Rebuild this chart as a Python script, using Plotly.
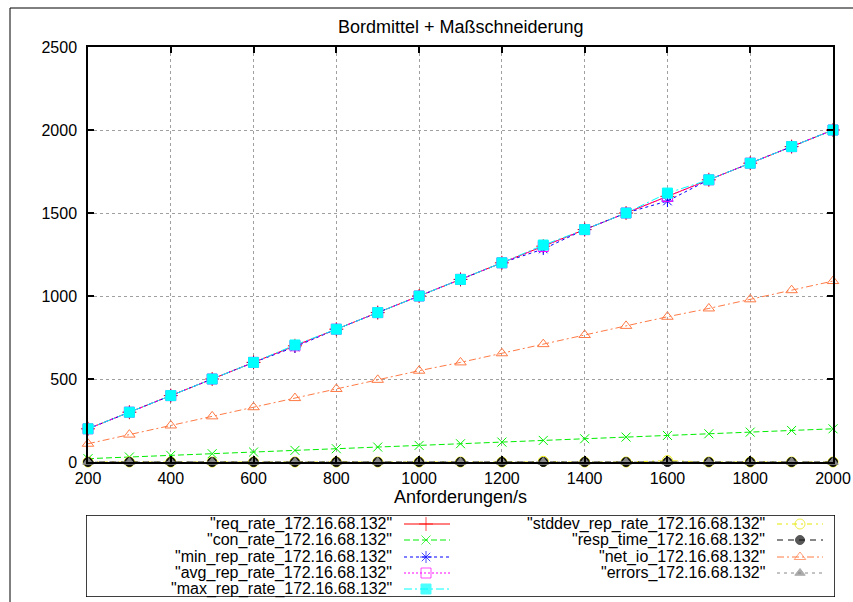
import plotly.graph_objects as go

# ---------------- data ----------------
x_vals = [200, 300, 400, 500, 600, 700, 800, 900, 1000, 1100, 1200, 1300, 1400, 1500, 1600, 1700, 1800, 1900, 2000]
req_rate = [200, 300, 400, 500, 600, 700, 800, 900, 1000, 1100, 1200, 1300, 1400, 1500, 1600, 1700, 1800, 1900, 2000]
con_rate = [20, 30, 40, 50, 60, 70, 80, 90, 100, 110, 120, 130, 140, 150, 160, 170, 180, 190, 200]
min_rep_rate = [200, 300, 400, 500, 600, 693, 800, 900, 1000, 1100, 1200, 1283, 1400, 1500, 1572, 1700, 1800, 1900, 2000]
avg_rep_rate = [200, 300, 400, 500, 600, 700, 800, 900, 1000, 1100, 1200, 1298, 1400, 1500, 1600, 1700, 1800, 1900, 2000]
max_rep_rate = [200, 300, 400, 500, 600, 705, 800, 900, 1000, 1100, 1200, 1307, 1400, 1500, 1620, 1700, 1800, 1900, 2000]
stddev_rep_rate = [0, 0, 0, 0, 0, 0, 0, 0, 0, 0, 0, 4, 0, 0, 8, 0, 0, 0, 0]
resp_time = [0, 0, 0, 0, 0, 0, 0, 0, 0, 0, 0, 0, 0, 0, 0, 0, 0, 0, 0]
net_io = [110, 165, 220, 275, 330, 385, 440, 495, 550, 600, 655, 710, 765, 820, 875, 925, 980, 1035, 1090]
errors = [0, 0, 0, 0, 0, 0, 0, 0, 0, 0, 0, 0, 0, 0, 0, 0, 0, 0, 0]

x_ticks = [200, 400, 600, 800, 1000, 1200, 1400, 1600, 1800, 2000]
y_ticks = [0, 500, 1000, 1500, 2000, 2500]

title_text = "Bordmittel + Maßschneiderung"
x_title = "Anforderungen/s"

series = [
    ("\"req_rate_172.16.68.132\"", req_rate, "#ff0000", "solid", "cross-thin-open", 10),
    ("\"con_rate_172.16.68.132\"", con_rate, "#00ee00", "6px,3px", "x-thin-open", 9),
    ("\"min_rep_rate_172.16.68.132\"", min_rep_rate, "#0000ff", "3px,3px", "asterisk-open", 10),
    ("\"avg_rep_rate_172.16.68.132\"", avg_rep_rate, "#ff00ff", "2px,2px", "square-open", 10),
    ("\"max_rep_rate_172.16.68.132\"", max_rep_rate, "#00ffff", "8px,3px,2px,3px", "square", 10),
    ("\"stddev_rep_rate_172.16.68.132\"", stddev_rep_rate, "#e6e600", "5px,4px,2px,4px", "circle-open", 10),
    ("\"resp_time_172.16.68.132\"", resp_time, "#111111", "6px,5px", "circle", 9),
    ("\"net_io_172.16.68.132\"", net_io, "#ff7a45", "7px,3px,2px,3px", "triangle-up-open", 10),
    ("\"errors_172.16.68.132\"", errors, "#888888", "3px,4px", "triangle-up", 9),
]

FONT = "Liberation Sans, Arial, sans-serif"

fig = go.Figure()

for name, vals, color, dash, sym, size in series:
    fig.add_trace(go.Scatter(
        x=x_vals, y=vals, mode="lines+markers", name=name,
        line=dict(color=color, width=1, dash=dash),
        marker=dict(symbol=sym, size=size, color=color,
                    line=dict(color=color, width=1)),
        cliponaxis=False, showlegend=False,
        xaxis="x", yaxis="y",
    ))

# ---------- legend built on an auxiliary axis pair (pixel-like units) ----------
rows_left = [524, 540, 557, 573, 589]
rows_right = [524, 540, 557, 573]
annotations = []
for i, (name, vals, color, dash, sym, size) in enumerate(series):
    if i < 5:
        ty, tx, lx0, lx1, mx = rows_left[i], 394, 404, 450, 426
    else:
        ty, tx, lx0, lx1, mx = rows_right[i - 5], 767, 777, 823, 800
    fig.add_trace(go.Scatter(
        x=[lx0, mx, lx1], y=[ty, ty, ty], mode="lines+markers",
        line=dict(color=color, width=1, dash=dash),
        marker=dict(symbol=sym, size=[0, size, 0], color=color,
                    line=dict(color=color, width=1)),
        xaxis="x2", yaxis="y2", showlegend=False, hoverinfo="skip",
        cliponaxis=False,
    ))
    annotations.append(dict(
        x=tx, y=ty, xref="x2", yref="y2", text=name, showarrow=False,
        xanchor="right", yanchor="middle",
        font=dict(family=FONT, size=16, color="#000000"),
    ))

# paper spans pixels x: 10..853, y: 8..602
W, H = 853, 602
L, T = 10, 8
PW, PH = W - L, H - T

def px(xp):
    return (xp - L) / PW

def py(yp):
    return (H - yp) / PH

annotations.append(dict(
    x=px(460.5), y=py(27), xref="paper", yref="paper", text=title_text,
    showarrow=False, xanchor="center", yanchor="middle",
    font=dict(family=FONT, size=18, color="#000000"),
))
annotations.append(dict(
    x=px(460.5), y=py(497), xref="paper", yref="paper", text=x_title,
    showarrow=False, xanchor="center", yanchor="middle",
    font=dict(family=FONT, size=18, color="#000000"),
))

shapes = [
    # outer frame (top and left visible, extends past the image)
    dict(type="rect", xref="paper", yref="paper", x0=0, y0=1, x1=1.05, y1=-0.05,
         line=dict(color="#000000", width=1), layer="below"),
    # legend box
    dict(type="rect", xref="x2", yref="y2", x0=86, y0=515, x1=835, y1=597,
         line=dict(color="#000000", width=1.5)),
]

fig.update_layout(
    template="none",
    autosize=False,
    width=W, height=H,
    margin=dict(l=L, r=0, t=T, b=0, pad=0, autoexpand=False),
    paper_bgcolor="#ffffff", plot_bgcolor="#ffffff",
    font=dict(family=FONT, size=16, color="#000000"),
    showlegend=False,
    xaxis=dict(
        domain=[px(88), px(833)], range=[200, 2000], automargin=False,
        tickvals=x_ticks, ticktext=[str(v) for v in x_ticks],
        showgrid=True, gridcolor="#a0a0a0", griddash="dot", gridwidth=1,
        showline=True, linecolor="#000000", linewidth=1.5, mirror="ticks",
        ticks="inside", ticklen=6, tickcolor="#000000", tickwidth=1.5,
        zeroline=False, anchor="y", ticklabelstandoff=1,
        tickfont=dict(family=FONT, size=16),
    ),
    yaxis=dict(
        domain=[py(462), py(47)], range=[0, 2500], automargin=False,
        tickvals=y_ticks, ticktext=[str(v) for v in y_ticks],
        showgrid=True, gridcolor="#a0a0a0", griddash="dot", gridwidth=1,
        showline=True, linecolor="#000000", linewidth=1.5, mirror="ticks",
        ticks="inside", ticklen=6, tickcolor="#000000", tickwidth=1.5,
        zeroline=False, anchor="x", ticklabelstandoff=6,
        tickfont=dict(family=FONT, size=16),
    ),
    xaxis2=dict(
        domain=[px(86), px(835)], range=[86, 835], visible=False,
        anchor="y2", fixedrange=True, automargin=False,
    ),
    yaxis2=dict(
        domain=[py(597), py(515)], range=[597, 515], visible=False,
        anchor="x2", fixedrange=True, automargin=False,
    ),
    annotations=annotations,
    shapes=shapes,
)

fig.write_html(
    "out.html",
    config={"displayModeBar": False, "responsive": False},
    default_width="853px",
    default_height="602px",
    post_script="document.body.style.margin='0';document.body.style.overflow='hidden';",
)
